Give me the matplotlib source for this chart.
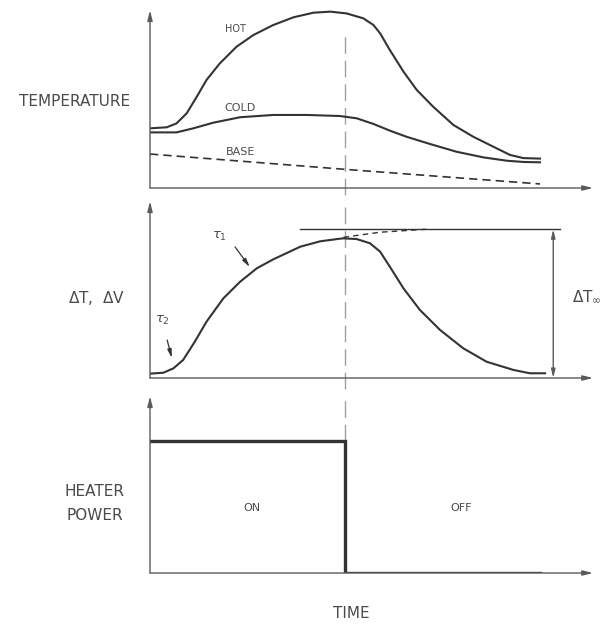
import numpy as np
import matplotlib.pyplot as plt

# time axis (arbitrary units), heater switched off at T_OFF
T_OFF = 5.0
T_AXIS_END = 11.36

# temperature panel
hot_t = [0, 0.43, 0.68, 0.94, 1.20, 1.45, 1.79, 2.22, 2.65, 3.16, 3.68, 4.19, 4.62, 5.04,
         5.47, 5.73, 5.90, 6.15, 6.50, 6.84, 7.26, 7.78, 8.29, 8.80, 9.23, 9.57, 10.0]
hot_v = [3.39, 3.45, 3.67, 4.24, 5.19, 6.14, 7.08, 8.03, 8.69, 9.26, 9.70, 9.96, 10.02, 9.92,
         9.64, 9.26, 8.79, 7.84, 6.61, 5.57, 4.62, 3.58, 2.91, 2.35, 1.88, 1.70, 1.67]
cold_t = [0, 0.68, 1.11, 1.62, 2.31, 3.16, 4.02, 4.87, 5.30, 5.73, 6.15, 6.58, 7.18, 7.86,
          8.55, 9.15, 9.57, 10.0]
cold_v = [3.16, 3.16, 3.39, 3.71, 4.02, 4.15, 4.15, 4.09, 3.96, 3.64, 3.26, 2.91, 2.50, 2.06,
          1.74, 1.55, 1.48, 1.46]
base_t = [0, 5.0, 10.0]
base_v = [1.93, 1.06, 0.23]

# delta T / delta V panel
dt_t = [0, 0.34, 0.60, 0.85, 1.15, 1.45, 1.88, 2.31, 2.74, 3.16, 3.85, 4.36, 4.87, 4.96,
        5.30, 5.64, 5.90, 6.15, 6.50, 6.92, 7.44, 8.03, 8.63, 9.32, 9.74, 10.13]
dt_v = [0.25, 0.30, 0.55, 1.03, 2.08, 3.22, 4.55, 5.50, 6.27, 6.78, 7.50, 7.81, 7.96, 7.98,
        7.94, 7.70, 7.22, 6.36, 5.12, 3.89, 2.74, 1.70, 0.93, 0.46, 0.27, 0.27]
dt_inf = 8.50
ext_t = [4.96, 5.9, 7.09]
ext_v = [8.04, 8.33, 8.50]

# heater power panel
heat_t = [0, T_OFF, T_OFF, 10.0]
heat_v = [7.54, 7.54, 0.0, 0.0]

INK = '#333333'
AXC = '#5a5a5a'
TXT = '#4a4a4a'

fig = plt.figure(figsize=(6.13, 6.24), dpi=100)
W, H = 613, 624
PX_T = 39.0
left = 150 / W
width = 11.6 * PX_T / W


def make_panel(y_axis_px, px_per_unit):
    ax = fig.add_axes([left, (H - y_axis_px) / H, width, 10.3 * px_per_unit / H])
    ax.set_xlim(0, 11.6)
    ax.set_ylim(0, 10.3)
    ax.axis('off')
    arrow = dict(arrowstyle='-|>,head_length=0.6,head_width=0.15', lw=1.0, color=AXC,
                 shrinkA=0, shrinkB=0)
    ax.annotate('', xy=(T_AXIS_END, 0), xytext=(0, 0), arrowprops=arrow, annotation_clip=False)
    ax.annotate('', xy=(0, 10.1), xytext=(0, 0), arrowprops=arrow, annotation_clip=False)
    return ax


ax1 = make_panel(188, 17.6)
ax2 = make_panel(378, 17.5)
ax3 = make_panel(573, 17.5)

# heater switch-off marker
dash = dict(color='#a0a0a0', lw=1.0, ls=(0, (12, 5)), clip_on=False)
ax1.plot([T_OFF, T_OFF], [-0.4, 9.0], **dash)
ax2.plot([T_OFF, T_OFF], [-0.6, 10.2], **dash)
ax3.plot([T_OFF, T_OFF], [7.54, 10.2], **dash)

# panel 1: temperatures
ax1.plot(hot_t, hot_v, color=INK, lw=1.5)
ax1.plot(cold_t, cold_v, color=INK, lw=1.5)
ax1.plot(base_t, base_v, color=INK, lw=1.2, ls=(0, (5, 3)))
ax1.text(2.18, 9.03, 'HOT', fontsize=7, color=TXT, ha='center', va='center')
ax1.text(2.31, 4.55, 'COLD', fontsize=8, color=TXT, ha='center', va='center')
ax1.text(2.31, 2.05, 'BASE', fontsize=8, color=TXT, ha='center', va='center')
fig.text(75 / W, 1 - 102 / H, 'TEMPERATURE', fontsize=11, color=TXT, ha='center', va='center')

# panel 2: delta T response
ax2.plot(dt_t, dt_v, color=INK, lw=1.5)
ax2.plot(ext_t, ext_v, color=INK, lw=1.0, ls=(0, (4, 3)))
ax2.plot([3.85, 10.51], [dt_inf, dt_inf], color=INK, lw=1.0)
ax2.annotate('', xy=(10.34, dt_inf), xytext=(10.34, 0),
             arrowprops=dict(arrowstyle='<|-|>,head_length=0.5,head_width=0.12', lw=1.0,
                             color=AXC, shrinkA=0, shrinkB=0))
ax2.text(11.2, 4.65, r'$\Delta\mathrm{T}_{\infty}$', fontsize=11, color=TXT,
         ha='center', va='center')
ax2.text(1.79, 8.06, r'$\tau_1$', fontsize=9.5, color=TXT, ha='center', va='center')
ax2.annotate('', xy=(2.56, 6.34), xytext=(2.18, 7.49),
             arrowprops=dict(arrowstyle='-|>,head_length=0.5,head_width=0.12', lw=0.9,
                             color=INK, shrinkA=0, shrinkB=0))
ax2.text(0.31, 3.31, r'$\tau_2$', fontsize=9.5, color=TXT, ha='center', va='center')
ax2.annotate('', xy=(0.56, 1.14), xytext=(0.44, 2.17),
             arrowprops=dict(arrowstyle='-|>,head_length=0.5,head_width=0.12', lw=0.9,
                             color=INK, shrinkA=0, shrinkB=0))
fig.text(97 / W, 1 - 298 / H, r'$\Delta$T,  $\Delta$V', fontsize=11, color=TXT,
         ha='center', va='center')

# panel 3: heater power
ax3.plot(heat_t, heat_v, color=INK, lw=2.4, solid_joinstyle='miter')
ax3.text(2.62, 3.71, 'ON', fontsize=8, color=TXT, ha='center', va='center')
ax3.text(7.97, 3.71, 'OFF', fontsize=8, color=TXT, ha='center', va='center')
fig.text(95 / W, 1 - 491 / H, 'HEATER', fontsize=11, color=TXT, ha='center', va='center')
fig.text(95 / W, 1 - 516 / H, 'POWER', fontsize=11, color=TXT, ha='center', va='center')
fig.text(351 / W, 1 - 613 / H, 'TIME', fontsize=11, color=TXT, ha='center', va='center')

fig.savefig('out.png', dpi=100, facecolor='white')
